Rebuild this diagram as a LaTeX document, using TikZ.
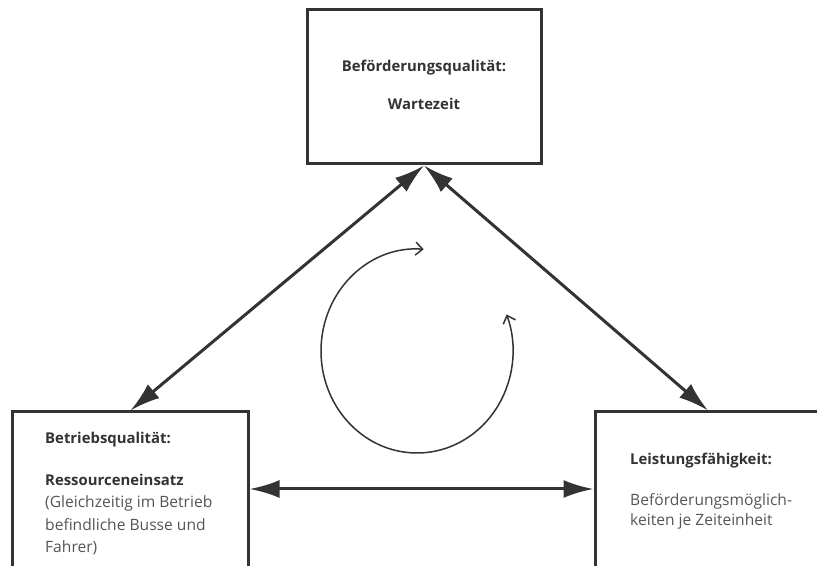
\documentclass[tikz,border=0pt]{standalone}
\usepackage{fontspec}
\setmainfont{Open Sans}
\usetikzlibrary{arrows.meta}
\definecolor{ink}{HTML}{333333}
\definecolor{bodytext}{HTML}{555555}
\tikzset{
  framebox/.style={draw=ink, line width=3bp, rectangle, inner sep=0pt},
  link/.style={draw=ink, line width=3bp,
    {Latex[length=30bp,width=18bp]}-{Latex[length=30bp,width=18bp]}},
  cyclearrow/.style={draw=ink, line width=1.5bp,
    {Straight Barb[length=7bp,width=13bp]}-{Straight Barb[length=7bp,width=13bp]}},
  headline/.style={font=\fontsize{14.9bp}{22.3bp}\selectfont\bfseries, text=ink, inner sep=0pt},
  bodyline/.style={font=\fontsize{15.6bp}{21bp}\selectfont, text=bodytext, inner sep=0pt, align=left},
}
\begin{document}
\begin{tikzpicture}[x=1bp, y=1bp]
\useasboundingbox (0,0) rectangle (817,566);
\clip (0,0) rectangle (817,566);

% the three boxes (bottom ones run past the lower and right edges)
\node[framebox, minimum width=234bp, minimum height=154bp] (quality) at (424,479) {};
\node[framebox, minimum width=235bp, minimum height=174bp] (operation) at (130.5,67) {};
\node[framebox, minimum width=226bp, minimum height=174bp] (capacity) at (708,67) {};

% texts
\node[headline, anchor=base] (qtitle) at (424,494) {Beförderungsqualität:};
\node[headline, anchor=base] (qwait) at (424,456) {Wartezeit};

\node[headline, anchor=base west] (otitle) at (45,122) {Betriebsqualität:};
\node[headline, anchor=base west] (ores) at (45,80) {Ressourceneinsatz};
\node[bodyline, anchor=base west] (obody1) at (45,58) {(Gleichzeitig im Betrieb};
\node[bodyline, anchor=base west] (obody2) at (45,35) {befindliche Busse und};
\node[bodyline, anchor=base west] (obody3) at (45,13) {Fahrer)};

\node[headline, anchor=base west] (ctitle) at (630,101) {Leistungsfähigkeit:};
\node[bodyline, anchor=base west] (cbody1) at (630,60) {Beförderungsmöglich-};
\node[bodyline, anchor=base west] (cbody2) at (630,40) {keiten je Zeiteinheit};

% connectors between the boxes
\draw[link] (quality.south) -- (operation.north);
\draw[link] (quality.south) -- (capacity.north);
\draw[link] ([yshift=10bp]operation.east) -- ([yshift=10bp]capacity.west);

% circular arrow in the middle
\coordinate (hub) at (417,215);
\draw[cyclearrow] ([shift={(86:96bp and 102bp)}]hub)
  arc[start angle=86, end angle=381, x radius=96bp, y radius=102bp];
\end{tikzpicture}
\end{document}
